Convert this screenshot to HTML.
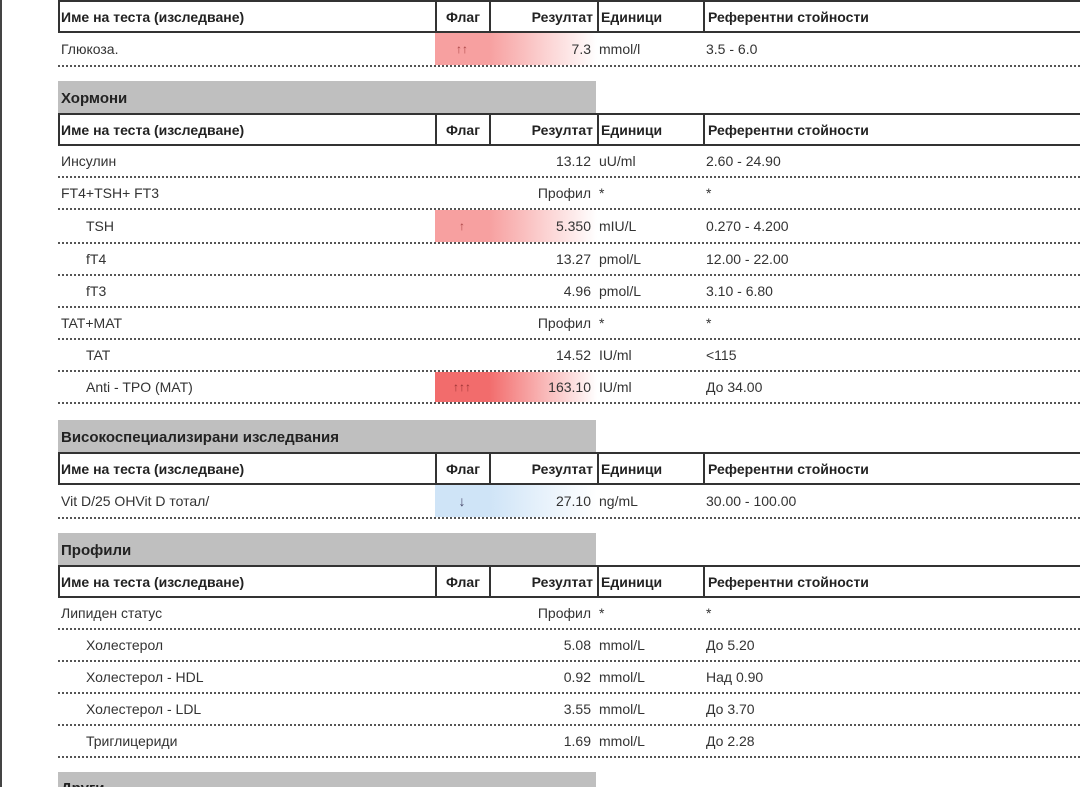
<!DOCTYPE html>
<html style="overflow:hidden;height:787px"><head><meta charset="utf-8"><style>
html,body{overflow:hidden}
body{margin:0;width:1080px;height:787px;overflow:hidden;background:#fff;position:relative;font-family:"Liberation Sans","DejaVu Sans",sans-serif;font-size:14px;color:#333}
.lb{position:absolute;left:0;top:0;width:2px;height:787px;background:#444}
.r{position:absolute;left:58px;width:1030px;height:32px;border-bottom:2px dotted #555;box-sizing:border-box}
.h{position:absolute;left:58px;width:1030px;height:33px;border:2px solid #333;box-sizing:border-box;font-weight:bold;color:#222}
.r span,.h span{position:absolute;top:0;height:100%;display:flex;align-items:center;box-sizing:border-box;white-space:nowrap}
.n{left:0;width:377px;padding-left:3px}
.f{left:377px;width:54px;justify-content:center}
.v{left:431px;width:108px;justify-content:flex-end;padding-right:6px}
.u{left:539px;width:106px;padding-left:2px}
.rf{left:645px;width:380px;padding-left:3px}
.h .n{left:-2px}
.h .f{left:375px}
.h .v{left:429px;padding-right:4px}
.h .u{left:537px}
.h .rf{left:643px}
.h .f,.h .v,.h .u,.h .rf{border-left:2px solid #333}
.ind{padding-left:28px!important}
.g{position:absolute;left:58px;width:538px;height:32px;background:#bfbfbf;font-weight:bold;font-size:15px;color:#222;padding-left:3px;box-sizing:border-box;display:flex;align-items:flex-end;padding-bottom:6px;overflow:hidden}
.red .f{background:#f7a0a0;color:#a44;font-size:12px}
.red .v{background:linear-gradient(90deg,#f7a0a0,#fff)}
.red2 .f{background:#f26c6c;color:#933;font-size:12px}
.red2 .v{background:linear-gradient(90deg,#f26c6c,#fff)}
.blue .f{background:#cfe4f7;color:#446}
.blue .v{background:linear-gradient(90deg,#cfe4f7,#fff)}
</style></head><body>
<div class="lb"></div>

<div class="h" style="top:0"><span class="n">Име на теста (изследване)</span><span class="f">Флаг</span><span class="v">Резултат</span><span class="u">Единици</span><span class="rf">Референтни стойности</span></div>
<div class="r red" style="top:33px;height:34px"><span class="n">Глюкоза.</span><span class="f">↑↑</span><span class="v">7.3</span><span class="u">mmol/l</span><span class="rf">3.5 - 6.0</span></div>

<div class="g" style="top:81px">Хормони</div>
<div class="h" style="top:113px"><span class="n">Име на теста (изследване)</span><span class="f">Флаг</span><span class="v">Резултат</span><span class="u">Единици</span><span class="rf">Референтни стойности</span></div>
<div class="r" style="top:146px"><span class="n">Инсулин</span><span class="v">13.12</span><span class="u">uU/ml</span><span class="rf">2.60 - 24.90</span></div>
<div class="r" style="top:178px"><span class="n">FT4+TSH+ FT3</span><span class="v">Профил</span><span class="u">*</span><span class="rf">*</span></div>
<div class="r red" style="top:210px;height:34px"><span class="n ind">TSH</span><span class="f">↑</span><span class="v">5.350</span><span class="u">mIU/L</span><span class="rf">0.270 - 4.200</span></div>
<div class="r" style="top:244px"><span class="n ind">fT4</span><span class="v">13.27</span><span class="u">pmol/L</span><span class="rf">12.00 - 22.00</span></div>
<div class="r" style="top:276px"><span class="n ind">fT3</span><span class="v">4.96</span><span class="u">pmol/L</span><span class="rf">3.10 - 6.80</span></div>
<div class="r" style="top:308px"><span class="n">TAT+MAT</span><span class="v">Профил</span><span class="u">*</span><span class="rf">*</span></div>
<div class="r" style="top:340px"><span class="n ind">TAT</span><span class="v">14.52</span><span class="u">IU/ml</span><span class="rf">&lt;115</span></div>
<div class="r red2" style="top:372px"><span class="n ind">Anti - TPO (MAT)</span><span class="f">↑↑↑</span><span class="v">163.10</span><span class="u">IU/ml</span><span class="rf">До 34.00</span></div>

<div class="g" style="top:420px">Високоспециализирани изследвания</div>
<div class="h" style="top:452px"><span class="n">Име на теста (изследване)</span><span class="f">Флаг</span><span class="v">Резултат</span><span class="u">Единици</span><span class="rf">Референтни стойности</span></div>
<div class="r blue" style="top:485px;height:34px"><span class="n">Vit D/25 OHVit D тотал/</span><span class="f">↓</span><span class="v">27.10</span><span class="u">ng/mL</span><span class="rf">30.00 - 100.00</span></div>

<div class="g" style="top:533px">Профили</div>
<div class="h" style="top:565px"><span class="n">Име на теста (изследване)</span><span class="f">Флаг</span><span class="v">Резултат</span><span class="u">Единици</span><span class="rf">Референтни стойности</span></div>
<div class="r" style="top:598px"><span class="n">Липиден статус</span><span class="v">Профил</span><span class="u">*</span><span class="rf">*</span></div>
<div class="r" style="top:630px"><span class="n ind">Холестерол</span><span class="v">5.08</span><span class="u">mmol/L</span><span class="rf">До 5.20</span></div>
<div class="r" style="top:662px"><span class="n ind">Холестерол - HDL</span><span class="v">0.92</span><span class="u">mmol/L</span><span class="rf">Над 0.90</span></div>
<div class="r" style="top:694px"><span class="n ind">Холестерол - LDL</span><span class="v">3.55</span><span class="u">mmol/L</span><span class="rf">До 3.70</span></div>
<div class="r" style="top:726px"><span class="n ind">Триглицериди</span><span class="v">1.69</span><span class="u">mmol/L</span><span class="rf">До 2.28</span></div>

<div class="g" style="top:772px;height:15px;align-items:flex-start;padding-top:8px;padding-bottom:0">Други</div>
</body></html>
